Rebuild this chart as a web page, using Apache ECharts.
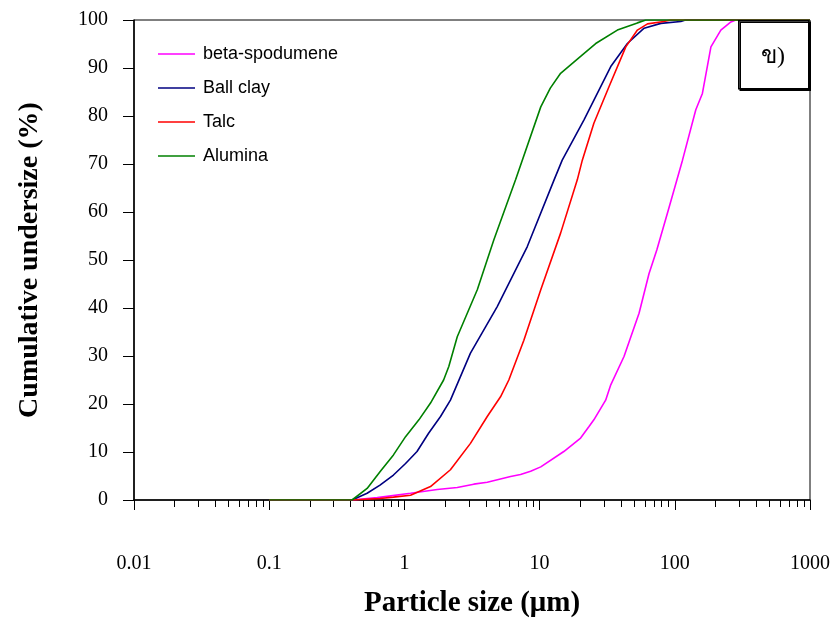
<!DOCTYPE html>
<html>
<head>
<meta charset="utf-8">
<script src="https://cdn.jsdelivr.net/npm/echarts@6/dist/echarts.min.js"></script>
<style>html,body{margin:0;padding:0;background:#fff}#c{width:837px;height:620px}</style>
</head>
<body>
<div id="c"></div>
<script>
// Particle size (µm) / cumulative undersize (%)
const spodumeneX = [0.1, 0.41, 0.63, 1.11, 1.75, 2.46, 3.26, 4.10, 6.10, 7.23, 8.58, 10.2, 15.1, 20.1, 23.2, 25.2, 30.8, 33.6, 42.1, 54.4, 64.5, 73.6, 88.7, 114, 143, 160, 185, 219, 260, 283, 1000];
const spodumeneY = [0, 0, 0.5, 1.4, 2.2, 2.6, 3.3, 3.7, 4.9, 5.3, 6.0, 6.9, 10.1, 12.9, 15.3, 16.7, 20.8, 24.0, 29.9, 38.9, 47.2, 52.1, 60.0, 70.8, 81.3, 84.7, 94.4, 97.9, 99.6, 100, 100];
const ballClayX = [0.1, 0.41, 0.53, 0.66, 0.83, 1.02, 1.24, 1.51, 1.85, 2.19, 3.08, 4.86, 8.11, 12.8, 14.7, 21.3, 33.6, 44.6, 59.3, 78.8, 110.8, 120, 1000];
const ballClayY = [0, 0, 1.4, 3.1, 5.2, 7.6, 10.1, 13.9, 17.4, 20.8, 30.6, 40.3, 52.8, 66.7, 70.8, 79.2, 90.3, 95.1, 98.3, 99.3, 99.7, 100, 100];
const talcX = [0.1, 0.41, 0.66, 0.83, 1.11, 1.56, 2.19, 3.08, 4.10, 5.14, 5.92, 7.65, 10.2, 14.3, 19.0, 20.7, 25.2, 32.6, 43.4, 52.9, 62.8, 82.9, 93.4, 1000];
const talcY = [0, 0, 0.3, 0.6, 1.0, 2.8, 6.3, 11.8, 17.4, 21.5, 25.0, 33.3, 43.8, 55.6, 66.7, 70.8, 78.5, 86.1, 94.4, 97.9, 99.2, 99.7, 100, 100];
const aluminaX = [0.1, 0.41, 0.53, 0.66, 0.83, 1.02, 1.28, 1.56, 1.95, 2.13, 2.46, 3.46, 4.59, 6.64, 10.2, 12.0, 14.3, 20.1, 26.0, 37.6, 52.9, 61.0, 1000];
const aluminaY = [0, 0, 2.4, 5.9, 9.4, 13.2, 16.7, 20.2, 25.0, 27.8, 34.0, 43.8, 54.2, 66.7, 81.9, 85.8, 88.9, 92.4, 95.1, 97.9, 99.4, 100, 100];
const seriesNames = ['beta-spodumene', 'Ball clay', 'Talc', 'Alumina'];
const seriesColors = ['#FF00FF', '#000080', '#FF0000', '#008000'];
const xMajor = [0.01, 0.1, 1, 10, 100, 1000];
const minorTicks = [];
for (let d = 0; d < xMajor.length - 1; d++) {
  for (let k = 2; k <= 9; k++) minorTicks.push(+(xMajor[d] * k).toPrecision(3));
}

const xs = [spodumeneX, ballClayX, talcX, aluminaX];
const ys = [spodumeneY, ballClayY, talcY, aluminaY];
const serif = 'Liberation Serif, Times New Roman, serif';

const chart = echarts.init(document.getElementById('c'));
chart.setOption({
  animation: false,
  backgroundColor: '#fff',
  grid: { left: 134, top: 20, right: 27, bottom: 120, show: true, borderColor: '#000', borderWidth: 1,
          containLabel: false, outerBoundsMode: 'none' },
  legend: {
    left: 153, top: 40, orient: 'vertical',
    itemWidth: 37, itemHeight: 14, itemGap: 16,
    data: seriesNames.map(n => ({ name: n, icon: 'path://M0,0L37,0L37,1.6L0,1.6Z' })),
    textStyle: { fontFamily: 'Liberation Sans, Arial, sans-serif', fontSize: 18, color: '#000', padding: [0, 0, 0, 3] }
  },
  xAxis: [{
    type: 'log', logBase: 10, min: 0.01, max: 1000,
    name: 'Particle size (μm)', nameLocation: 'middle', nameGap: 89,
    nameTextStyle: { fontFamily: serif, fontWeight: 'bold', fontSize: 29, color: '#000', verticalAlign: 'top' },
    axisLine: { show: true, lineStyle: { color: '#000', width: 1.5 } },
    axisTick: { show: true, inside: false, length: 10, lineStyle: { color: '#000', width: 1 }, customValues: xMajor },
    axisLabel: { show: true, margin: 54, fontFamily: serif, fontSize: 20, color: '#000', customValues: xMajor,
      formatter: v => String(+(+v).toPrecision(3)) },
    splitLine: { show: false }
  }, {
    type: 'log', logBase: 10, min: 0.01, max: 1000, position: 'bottom',
    axisLine: { show: false },
    axisTick: { show: true, inside: false, length: 7, lineStyle: { color: '#000', width: 1 }, customValues: minorTicks },
    axisLabel: { show: false },
    splitLine: { show: false }
  }],
  yAxis: {
    type: 'value', min: 0, max: 100, interval: 10,
    name: 'Cumulative undersize (%)', nameLocation: 'middle', nameGap: 90, nameRotate: 90,
    nameTextStyle: { fontFamily: serif, fontWeight: 'bold', fontSize: 28, color: '#000' },
    axisLine: { show: true, lineStyle: { color: '#000', width: 1.5 } },
    axisTick: { show: true, inside: false, length: 11, lineStyle: { color: '#000', width: 1 } },
    axisLabel: { margin: 26, fontFamily: serif, fontSize: 20, color: '#000' },
    splitLine: { show: false }
  },
  graphic: [{
    type: 'rect', left: 738, top: 20, z: 100,
    shape: { width: 70, height: 68 },
    style: { fill: '#fff', stroke: '#000', lineWidth: 1.5, shadowColor: '#000', shadowOffsetX: 1.5, shadowOffsetY: 1.5 }
  }, {
    type: 'text', left: 761, top: 45, z: 101,
    style: { text: 'ข)', fontFamily: 'Liberation Serif, DejaVu Serif, Noto Sans, serif', fontSize: 24, fill: '#000' }
  }],
  series: seriesNames.map((n, i) => ({
    name: n, type: 'line', xAxisIndex: 0, symbol: 'none', smooth: false,
    lineStyle: { color: seriesColors[i], width: 1.6 },
    itemStyle: { color: seriesColors[i] },
    data: xs[i].map((x, j) => [x, ys[i][j]])
  }))
});
</script>
</body>
</html>
